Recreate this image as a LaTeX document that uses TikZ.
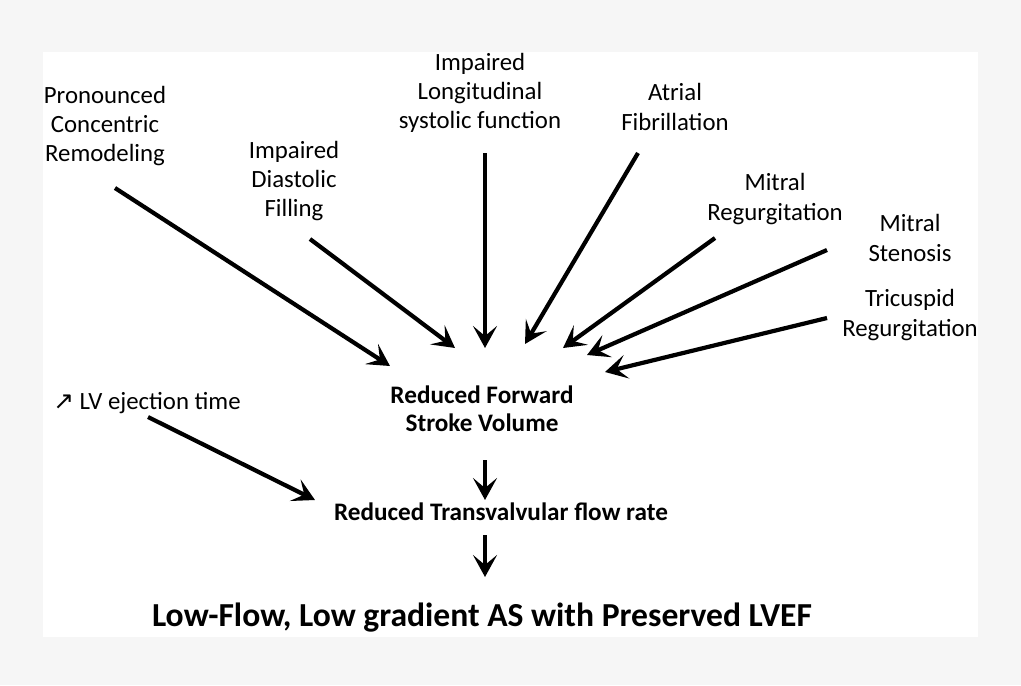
\documentclass[tikz,border=0pt]{standalone}
\usepackage{fontspec}
\setmainfont{Carlito}
\newfontfamily\symfont{DejaVu Sans}
\usetikzlibrary{arrows.meta}
\definecolor{bggray}{HTML}{F6F6F6}
\tikzset{
  cause/.style={align=center, inner sep=0pt, font=\fontsize{12.4}{14.6}\selectfont},
  effect/.style={align=center, inner sep=0pt, font=\fontsize{12.6}{14}\selectfont\bfseries},
  arr/.style={-{Stealth[length=11pt,width=12pt,inset=5pt]}, line width=2.1pt},
}
\begin{document}
\begin{tikzpicture}[x=0.5pt, y=-0.5pt]
    % Background
    \fill[bggray] (0,0) rectangle (1021,685);
    \fill[white] (43,52) rectangle (978,637);
    \useasboundingbox (0,0) rectangle (1021,685);
    % Causes
    \node[cause] (pcr) at (105,126) {Pronounced\\Concentric\\Remodeling};
    \node[cause] (idf) at (294,181) {Impaired\\Diastolic\\Filling};
    \node[cause] (ils) at (480,93) {Impaired\\Longitudinal\\systolic function};
    \node[cause] (af) at (675,107) {Atrial\\Fibrillation};
    \node[cause] (mr) at (775,199) {Mitral\\Regurgitation};
    \node[cause] (ms) at (910,238) {Mitral\\Stenosis};
    \node[cause] (tr) at (910,315) {Tricuspid\\Regurgitation};
    \node[cause] (lv) at (147,403) {{\symfont\char"2197}\ LV ejection time};
    % Effects
    \node[effect] (sv) at (482,409) {Reduced Forward\\Stroke Volume};
    \node[effect] (tfr) at (501,512) {Reduced Transvalvular flow rate};
    \node[align=center, inner sep=0pt, font=\fontsize{16.8}{20}\selectfont\bfseries]
        (lf) at (482,618) {Low-Flow, Low gradient AS with Preserved LVEF};
    % Arrow ends
    \coordinate (pcr-out) at (115,188);
    \coordinate (idf-out) at (310,239);
    \coordinate (ils-out) at (485,153);
    \coordinate (af-out) at (638,153);
    \coordinate (mr-out) at (715,238);
    \coordinate (ms-out) at (827,250);
    \coordinate (tr-out) at (827,318);
    \coordinate (lv-out) at (148,417);
    \coordinate (sv-in1) at (390,366);
    \coordinate (sv-in2) at (455,348);
    \coordinate (sv-in3) at (485,348);
    \coordinate (sv-in4) at (525,344);
    \coordinate (sv-in5) at (563,348);
    \coordinate (sv-in6) at (587,355);
    \coordinate (sv-in7) at (605,372);
    \coordinate (sv-out) at (485,460);
    \coordinate (tfr-in1) at (315,500);
    \coordinate (tfr-in2) at (485,500);
    \coordinate (tfr-out) at (485,535);
    \coordinate (lf-in) at (485,577);
    % Incoming arrows
    \draw[arr] (pcr-out) -- (sv-in1);
    \draw[arr] (idf-out) -- (sv-in2);
    \draw[arr] (ils-out) -- (sv-in3);
    \draw[arr] (af-out) -- (sv-in4);
    \draw[arr] (mr-out) -- (sv-in5);
    \draw[arr] (ms-out) -- (sv-in6);
    \draw[arr] (tr-out) -- (sv-in7);
    % Chain down
    \draw[arr] (lv-out) -- (tfr-in1);
    \draw[arr] (sv-out) -- (tfr-in2);
    \draw[arr] (tfr-out) -- (lf-in);
\end{tikzpicture}
\end{document}
